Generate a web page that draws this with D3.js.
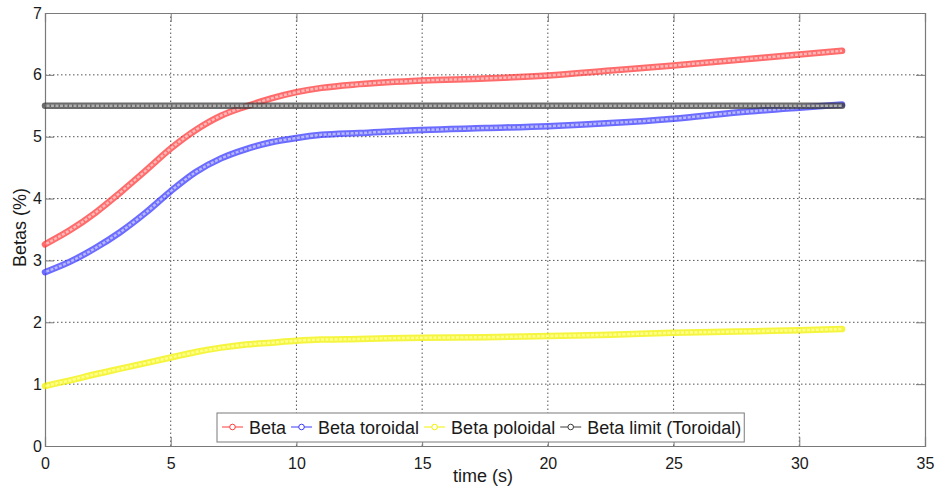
<!DOCTYPE html>
<html>
<head>
<meta charset="utf-8">
<script src="https://cdn.jsdelivr.net/npm/d3@7"></script>
<style>
  body { margin: 0; background: #fff; }
  text { font-family: "Liberation Sans", Arial, sans-serif; fill: #1a1a1a; }
</style>
</head>
<body>
<div id="chart"></div>
<script>
// data
const time = [0, 1, 2, 3, 4, 5, 6, 7, 8, 9, 10, 11, 12.5, 15, 17.5, 20, 22.5, 25, 27.5, 30, 31.7];
const beta = [3.26, 3.49, 3.77, 4.10, 4.45, 4.81, 5.11, 5.34, 5.49, 5.62, 5.72, 5.79, 5.85, 5.91, 5.94, 5.99, 6.07, 6.15, 6.24, 6.33, 6.39];
const betaToroidal = [2.81, 2.98, 3.20, 3.46, 3.77, 4.12, 4.43, 4.65, 4.80, 4.91, 4.98, 5.03, 5.06, 5.11, 5.14, 5.17, 5.22, 5.29, 5.39, 5.47, 5.52];
const betaPoloidal = [0.97, 1.06, 1.16, 1.25, 1.34, 1.43, 1.52, 1.59, 1.64, 1.67, 1.70, 1.72, 1.73, 1.75, 1.76, 1.78, 1.80, 1.83, 1.85, 1.87, 1.89];
const betaLimit = [5.5, 5.5, 5.5, 5.5, 5.5, 5.5, 5.5, 5.5, 5.5, 5.5, 5.5, 5.5, 5.5, 5.5, 5.5, 5.5, 5.5, 5.5, 5.5, 5.5, 5.5];

const seriesNames = ["Beta", "Beta toroidal", "Beta poloidal", "Beta limit (Toroidal)"];
const xTicks = [0, 5, 10, 15, 20, 25, 30, 35];
const yTicks = [0, 1, 2, 3, 4, 5, 6, 7];

const width = 937, height = 490;
const margin = { top: 13, right: 12, bottom: 44, left: 45 };

const svg = d3.select("#chart").append("svg")
  .attr("width", width)
  .attr("height", height);

const x = d3.scaleLinear().domain([0, 35]).range([margin.left, width - margin.right]);
const y = d3.scaleLinear().domain([0, 7]).range([height - margin.bottom, margin.top]);

// grid
svg.append("g").selectAll("line.vgrid")
  .data(xTicks.slice(1, -1))
  .join("line")
  .attr("x1", d => x(d)).attr("x2", d => x(d))
  .attr("y1", y(0)).attr("y2", y(7))
  .attr("stroke", "#555").attr("stroke-width", 1)
  .attr("stroke-dasharray", "1.5,2.5");
svg.append("g").selectAll("line.hgrid")
  .data(yTicks.slice(1, -1))
  .join("line")
  .attr("x1", x(0)).attr("x2", x(35))
  .attr("y1", d => y(d)).attr("y2", d => y(d))
  .attr("stroke", "#555").attr("stroke-width", 1)
  .attr("stroke-dasharray", "1.5,2.5");

// axes, matlab style with inward ticks all round
const tickLen = 9;
svg.append("g")
  .attr("transform", `translate(0,${y(0)})`)
  .call(d3.axisBottom(x).tickValues(xTicks).tickSize(-tickLen).tickPadding(tickLen + 3).tickFormat(d3.format("d")))
  .call(g => g.selectAll("text").attr("font-size", 16).attr("font-family", "Liberation Sans, Arial"));
svg.append("g")
  .attr("transform", `translate(0,${y(7)})`)
  .call(d3.axisTop(x).tickValues(xTicks).tickSize(-tickLen).tickFormat(""));
svg.append("g")
  .attr("transform", `translate(${x(0)},0)`)
  .call(d3.axisLeft(y).tickValues(yTicks).tickSize(-tickLen).tickFormat(d3.format("d")))
  .call(g => g.selectAll("text").attr("font-size", 16).attr("font-family", "Liberation Sans, Arial").attr("x", -3));
svg.append("g")
  .attr("transform", `translate(${x(35)},0)`)
  .call(d3.axisRight(y).tickValues(yTicks).tickSize(-tickLen).tickFormat(""));
svg.selectAll(".domain").attr("stroke", "#7a7a7a").attr("stroke-width", 1.2);
svg.selectAll(".tick line").attr("stroke", "#7a7a7a");
svg.selectAll(".tick text").attr("fill", "#1a1a1a");

// series
const series = [
  { name: seriesNames[0], values: beta, color: "#ff3a3a", light: "#ffb8b8" },
  { name: seriesNames[1], values: betaToroidal, color: "#3a3aff", light: "#b8b8ff" },
  { name: seriesNames[2], values: betaPoloidal, color: "#f2f200", light: "#ffff90" },
  { name: seriesNames[3], values: betaLimit, color: "#3a3a3a", light: "#b0b0b0" }
];

const line = d3.line()
  .x((d, i) => x(time[i]))
  .y(d => y(d))
  .curve(d3.curveMonotoneX);

const lines = svg.append("g").attr("class", "series");
series.forEach(s => {
  lines.append("path")
    .attr("d", line(s.values))
    .attr("fill", "none")
    .attr("stroke", s.color)
    .attr("stroke-opacity", 0.75)
    .attr("stroke-width", 6.5)
    .attr("stroke-linecap", "round");
  lines.append("path")
    .attr("d", line(s.values))
    .attr("fill", "none")
    .attr("stroke", s.light)
    .attr("stroke-width", 2.5);
  lines.append("path")
    .attr("d", line(s.values))
    .attr("fill", "none")
    .attr("stroke", s.color)
    .attr("stroke-opacity", 0.6)
    .attr("stroke-width", 2.5)
    .attr("stroke-dasharray", "1.5,3");
});

// axis labels
svg.append("text")
  .attr("x", 483)
  .attr("y", 482)
  .attr("text-anchor", "middle")
  .attr("font-size", 18)
  .text("time (s)");
svg.append("text")
  .attr("transform", `translate(26,${(y(0) + y(7)) / 2 - 2}) rotate(-90)`)
  .attr("text-anchor", "middle")
  .attr("font-size", 18)
  .text("Betas (%)");

// legend
const legend = svg.append("g").attr("class", "legend");
const legBox = legend.append("rect")
  .attr("fill", "#fff")
  .attr("stroke", "#7a7a7a")
  .attr("stroke-width", 1);
let lx = 222;
const ly = 427;
series.forEach(s => {
  legend.append("line")
    .attr("x1", lx).attr("x2", lx + 21)
    .attr("y1", ly).attr("y2", ly)
    .attr("stroke", s.color).attr("stroke-width", 1);
  legend.append("circle")
    .attr("cx", lx + 10.5).attr("cy", ly).attr("r", 2.8)
    .attr("fill", "#fff").attr("stroke", s.color).attr("stroke-width", 1);
  const t = legend.append("text")
    .attr("x", lx + 27)
    .attr("y", ly + 6.5)
    .attr("font-size", 18)
    .text(s.name);
  lx = lx + 27 + t.node().getComputedTextLength() + 5;
});
legBox.attr("x", 217).attr("y", 413).attr("width", lx - 217 - 2).attr("height", 29);
</script>
</body>
</html>
